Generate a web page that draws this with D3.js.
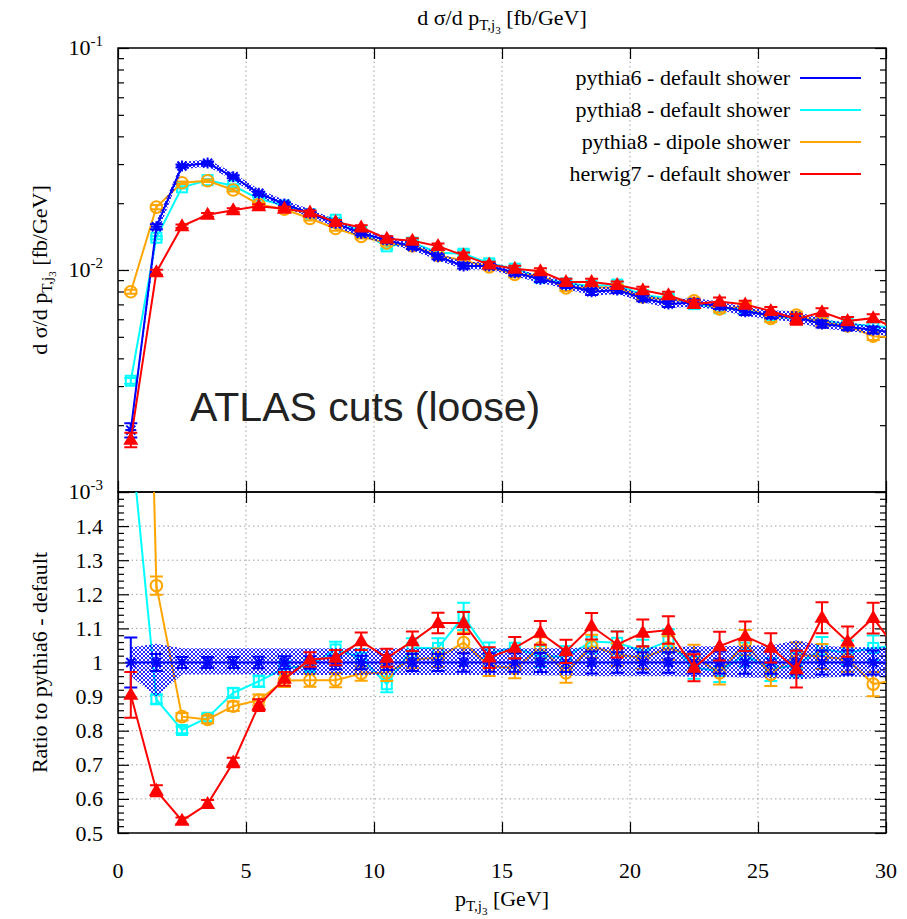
<!DOCTYPE html>
<html><head><meta charset="utf-8">
<script src="https://cdn.jsdelivr.net/npm/d3@7"></script>
<style>
body{margin:0;background:#fff}
text{font-family:"Liberation Serif","Times New Roman",serif;fill:#000}
</style>
</head><body><svg id="c" width="907" height="919"></svg>
<script>
// ---------------- data ----------------
const binCenters = [0.5,1.5,2.5,3.5,4.5,5.5,6.5,7.5,8.5,9.5,10.5,11.5,12.5,13.5,14.5,15.5,16.5,17.5,18.5,19.5,20.5,21.5,22.5,23.5,24.5,25.5,26.5,27.5,28.5,29.5,30.5];
const seriesNames = ["pythia6 - default shower","pythia8 - default shower","pythia8 - dipole shower","herwig7 - default shower"];
const seriesColors = ["#0000ff","#00ffff","#ffa500","#ff0000"];
const xTicks = [0,5,10,15,20,25,30];
const topTickExp = ["-3","-2","-1"];
const ratioTickLabels = ["0.5","0.6","0.7","0.8","0.9","1","1.1","1.2","1.3","1.4"];

const pythia6 = [0.00190,0.01567,0.0294,0.0303,0.0263,0.02216,0.01983,0.0180,0.01622,0.01463,0.01365,0.01274,0.01148,0.01043,0.01043,0.00972,0.00908,0.00856,0.00798,0.00813,0.00746,0.00703,0.00713,0.00689,0.00649,0.00627,0.00612,0.00571,0.00555,0.00537,0.00520];
const pythia8 = [0.00317,0.01398,0.02358,0.02539,0.02396,0.02094,0.01951,0.01782,0.01684,0.01483,0.01278,0.01329,0.01197,0.01184,0.01072,0.01014,0.00924,0.00871,0.00847,0.00860,0.00771,0.00747,0.00702,0.00672,0.00664,0.00614,0.00608,0.00593,0.00571,0.00560,0.00546];
const pythia8dip = [0.00798,0.0192,0.02473,0.02524,0.02293,0.01972,0.01878,0.01706,0.01538,0.01416,0.01324,0.01285,0.01164,0.01104,0.01033,0.00956,0.00947,0.00830,0.00836,0.00832,0.00756,0.00733,0.00726,0.00668,0.00687,0.00605,0.00626,0.00581,0.00560,0.00503,0.00494];
const herwig7 = [0.00172,0.00978,0.01576,0.01773,0.01859,0.01939,0.01888,0.01816,0.01645,0.01554,0.01384,0.01353,0.01281,0.01164,0.01058,0.01014,0.00987,0.00884,0.00883,0.00856,0.00811,0.00770,0.00702,0.00722,0.00699,0.00654,0.00600,0.00646,0.00589,0.00607,0.00536];

// relative statistical errors
const pythia6Err = [0.073,0.025,0.016,0.016,0.016,0.017,0.018,0.018,0.02,0.02,0.022,0.025,0.025,0.027,0.027,0.027,0.028,0.028,0.032,0.03,0.03,0.03,0.032,0.032,0.033,0.033,0.035,0.035,0.035,0.035,0.035];
const pythia8Err = [0.03,0.015,0.012,0.012,0.015,0.018,0.02,0.02,0.022,0.025,0.025,0.027,0.027,0.035,0.03,0.03,0.03,0.03,0.032,0.032,0.032,0.033,0.033,0.033,0.034,0.034,0.035,0.035,0.035,0.035,0.035];
const pythia8dipErr = [0.02,0.022,0.013,0.013,0.016,0.018,0.02,0.02,0.022,0.022,0.025,0.025,0.027,0.028,0.03,0.03,0.03,0.03,0.032,0.032,0.032,0.033,0.033,0.035,0.035,0.035,0.035,0.036,0.036,0.038,0.038];
const herwig7Err = [0.074,0.026,0.018,0.02,0.02,0.02,0.021,0.021,0.022,0.024,0.026,0.027,0.027,0.029,0.03,0.03,0.032,0.033,0.035,0.036,0.036,0.037,0.04,0.04,0.04,0.041,0.055,0.04,0.042,0.04,0.04];

// pythia6 uncertainty band (relative, below / above)
const bandLo = [0.04,0.10,0.035,0.035,0.035,0.035,0.037,0.037,0.037,0.037,0.037,0.037,0.037,0.037,0.037,0.037,0.038,0.038,0.04,0.04,0.04,0.04,0.042,0.042,0.045,0.045,0.05,0.045,0.042,0.042,0.042];
const bandHi = [0.045,0.055,0.042,0.042,0.042,0.042,0.042,0.042,0.042,0.042,0.042,0.042,0.042,0.042,0.042,0.042,0.042,0.042,0.045,0.045,0.045,0.045,0.048,0.048,0.05,0.05,0.065,0.05,0.045,0.045,0.045];

// ---------------- layout ----------------
const L = 118, R = 886, T = 48, M = 492, B = 833;
const svg = d3.select("#c");
const x = d3.scaleLinear([0,30],[L,R]);
const yTop = d3.scaleLog([1e-3,1e-1],[M,T]);
const yRat = d3.scaleLinear([0.5,1.5],[B,M]);

const defs = svg.append("defs");
defs.append("clipPath").attr("id","clipTop").append("rect").attr("x",L).attr("y",T).attr("width",R-L).attr("height",M-T);
defs.append("clipPath").attr("id","clipRat").append("rect").attr("x",L).attr("y",M).attr("width",R-L).attr("height",B-M);
const pat = defs.append("pattern").attr("id","hatch").attr("patternUnits","userSpaceOnUse").attr("width",4).attr("height",4);
pat.append("path").attr("d","M0,0 L4,4 M4,0 L0,4 M-1,3 L1,5 M3,-1 L5,1 M-1,1 L1,-1 M3,5 L5,3").attr("stroke","#0000ff").attr("stroke-width",0.85);

// ---------------- grids ----------------
const gridStyle = s => s.attr("stroke","#a0a0a0").attr("stroke-width",1).attr("stroke-dasharray","1.5,3");
const grid = svg.append("g");
[5,10,15,20,25].forEach(v=>{
  grid.append("line").attr("x1",x(v)).attr("x2",x(v)).attr("y1",T).attr("y2",M).call(gridStyle);
  grid.append("line").attr("x1",x(v)).attr("x2",x(v)).attr("y1",M).attr("y2",B).call(gridStyle);
});
grid.append("line").attr("x1",L).attr("x2",R).attr("y1",yTop(1e-2)).attr("y2",yTop(1e-2)).call(gridStyle);
[0.6,0.7,0.8,0.9,1.0,1.1,1.2,1.3,1.4].forEach(v=>{
  grid.append("line").attr("x1",L).attr("x2",R).attr("y1",yRat(v)).attr("y2",yRat(v)).call(gridStyle);
});

// ---------------- axes ----------------
function axisStyle(g){ g.select(".domain").remove(); g.selectAll("line").attr("stroke","#000").attr("stroke-width",1.2); g.selectAll("text").remove(); }
const topMajor = [1e-3,1e-2,1e-1];
const topMinor = [];
[1e-3,1e-2].forEach(d=>{ for(let k=2;k<=9;k++) topMinor.push(d*k); });
svg.append("g").attr("transform",`translate(${L},0)`).call(d3.axisLeft(yTop).tickValues(topMajor).tickSize(-11)).call(axisStyle);
svg.append("g").attr("transform",`translate(${L},0)`).call(d3.axisLeft(yTop).tickValues(topMinor).tickSize(-6)).call(axisStyle);
svg.append("g").attr("transform",`translate(${R},0)`).call(d3.axisRight(yTop).tickValues(topMajor).tickSize(-11)).call(axisStyle);
svg.append("g").attr("transform",`translate(${R},0)`).call(d3.axisRight(yTop).tickValues(topMinor).tickSize(-6)).call(axisStyle);

const ratMajor = d3.range(0,11).map(i=>0.5+i*0.1);
const ratMinor = [];
for(let i=0;i<50;i++){ if(i%5!==0) ratMinor.push(0.5+i*0.02); }
svg.append("g").attr("transform",`translate(${L},0)`).call(d3.axisLeft(yRat).tickValues(ratMajor).tickSize(-11)).call(axisStyle);
svg.append("g").attr("transform",`translate(${L},0)`).call(d3.axisLeft(yRat).tickValues(ratMinor).tickSize(-6)).call(axisStyle);
svg.append("g").attr("transform",`translate(${R},0)`).call(d3.axisRight(yRat).tickValues(ratMajor).tickSize(-11)).call(axisStyle);
svg.append("g").attr("transform",`translate(${R},0)`).call(d3.axisRight(yRat).tickValues(ratMinor).tickSize(-6)).call(axisStyle);

svg.append("g").attr("transform",`translate(0,${M})`).call(d3.axisTop(x).tickValues(xTicks).tickSize(11)).call(axisStyle);
svg.append("g").attr("transform",`translate(0,${M})`).call(d3.axisBottom(x).tickValues(xTicks).tickSize(11)).call(axisStyle);
svg.append("g").attr("transform",`translate(0,${B})`).call(d3.axisTop(x).tickValues(xTicks).tickSize(11)).call(axisStyle);
svg.append("g").attr("transform",`translate(0,${T})`).call(d3.axisBottom(x).tickValues(xTicks).tickSize(11)).call(axisStyle);

// tick labels
const FS = 22;
topMajor.forEach((v,i)=>{
  const t = svg.append("text").attr("x",103).attr("y",yTop(v)+7).attr("text-anchor","end").attr("font-size",FS);
  t.append("tspan").text("10");
  t.append("tspan").attr("dy",-9).attr("font-size",15).text(topTickExp[i]);
});
ratioTickLabels.forEach((s,i)=>{
  svg.append("text").attr("x",103).attr("y",yRat(0.5+i*0.1)+7.5).attr("text-anchor","end").attr("font-size",FS).text(s);
});
xTicks.forEach(v=>{
  svg.append("text").attr("x",x(v)).attr("y",878).attr("text-anchor","middle").attr("font-size",FS).text(v);
});

// frames
svg.append("rect").attr("x",L).attr("y",T).attr("width",R-L).attr("height",M-T).attr("fill","none").attr("stroke","#000").attr("stroke-width",1.5);
svg.append("rect").attr("x",L).attr("y",M).attr("width",R-L).attr("height",B-M).attr("fill","none").attr("stroke","#000").attr("stroke-width",1.5);

// ---------------- titles ----------------
function pTj3(t){
  t.append("tspan").text("p");
  t.append("tspan").attr("dy",5).attr("font-size",15).text("T,j");
  t.append("tspan").attr("dy",4).attr("font-size",11).text("3");
  t.append("tspan").attr("dy",-9).text(" ");
}
{
  const t = svg.append("text").attr("x",(L+R)/2).attr("y",25).attr("text-anchor","middle").attr("font-size",FS);
  t.append("tspan").text("d σ/d ");
  pTj3(t);
  t.append("tspan").text("[fb/GeV]");
}
{
  const t = svg.append("text").attr("x",(L+R)/2).attr("y",906).attr("text-anchor","middle").attr("font-size",FS);
  pTj3(t);
  t.append("tspan").text("[GeV]");
}
{
  const t = svg.append("text").attr("transform",`translate(47,${(T+M)/2}) rotate(-90)`).attr("text-anchor","middle").attr("font-size",FS);
  t.append("tspan").text("d σ/d ");
  pTj3(t);
  t.append("tspan").text("[fb/GeV]");
}
svg.append("text").attr("transform",`translate(47,${(M+B)/2}) rotate(-90)`).attr("text-anchor","middle").attr("font-size",FS).text("Ratio to pythia6 - default");

svg.append("text").attr("x",190).attr("y",421).attr("font-size",41).style("font-family","'Liberation Sans',Arial,sans-serif").style("fill","#222").text("ATLAS cuts (loose)");

// ---------------- markers ----------------
function drawMarker(g, type, cx, cy, color){
  if(type==="star"){
    g.append("path").attr("d",`M${cx-5.5},${cy}L${cx+5.5},${cy}M${cx},${cy-5.5}L${cx},${cy+5.5}M${cx-4.5},${cy-4.5}L${cx+4.5},${cy+4.5}M${cx-4.5},${cy+4.5}L${cx+4.5},${cy-4.5}`).attr("stroke",color).attr("stroke-width",2).attr("fill","none");
  } else if(type==="square"){
    g.append("rect").attr("x",cx-5).attr("y",cy-5).attr("width",10).attr("height",10).attr("stroke",color).attr("stroke-width",2).attr("fill","none");
  } else if(type==="circle"){
    g.append("circle").attr("cx",cx).attr("cy",cy).attr("r",5.8).attr("stroke",color).attr("stroke-width",2).attr("fill","none");
  } else {
    g.append("path").attr("d",`M${cx},${cy-8}L${cx+7.5},${cy+5}L${cx-7.5},${cy+5}Z`).attr("fill",color);
  }
}
const markerTypes = ["star","square","circle","triangle"];
const allSeries = [pythia6, pythia8, pythia8dip, herwig7];
const allErr = [pythia6Err, pythia8Err, pythia8dipErr, herwig7Err];

function drawSeries(g, xs, ys, lo, hi, color, type){
  const pts = xs.map((xv,i)=>[x(xv), ys[i]]);
  g.append("path").attr("d",d3.line()(pts)).attr("fill","none").attr("stroke",color).attr("stroke-width",2);
  xs.forEach((xv,i)=>{
    if(xv>30) return;
    const cx = x(xv);
    g.append("path").attr("d",`M${cx},${lo[i]}L${cx},${hi[i]}M${cx-6.5},${lo[i]}L${cx+6.5},${lo[i]}M${cx-6.5},${hi[i]}L${cx+6.5},${hi[i]}`).attr("stroke",color).attr("stroke-width",2).attr("fill","none");
    drawMarker(g, type, cx, ys[i], color);
  });
}

// ---------------- panels ----------------
const gTop = svg.append("g").attr("clip-path","url(#clipTop)");
const gRat = svg.append("g").attr("clip-path","url(#clipRat)");

const topBand = d3.area().x((d,i)=>x(binCenters[i])).y0((d,i)=>yTop(d*(1-bandLo[i]))).y1((d,i)=>yTop(d*(1+bandHi[i])));
const ratBand = d3.area().x((d,i)=>x(binCenters[i])).y0((d,i)=>yRat(1-bandLo[i])).y1((d,i)=>yRat(1+bandHi[i]));

const order = [1,2,0,3];
order.forEach(s=>{
  if(s===0){
    gTop.append("path").attr("d",topBand(pythia6)).attr("fill","url(#hatch)");
    gRat.append("path").attr("d",ratBand(pythia6)).attr("fill","url(#hatch)");
  }
  const vals = allSeries[s], err = allErr[s];
  drawSeries(gTop, binCenters, vals.map(v=>yTop(v)), vals.map((v,i)=>yTop(v*(1-err[i]))), vals.map((v,i)=>yTop(v*(1+err[i]))), seriesColors[s], markerTypes[s]);
  const ratio = vals.map((v,i)=>v/pythia6[i]);
  drawSeries(gRat, binCenters, ratio.map(r=>yRat(r)), ratio.map((r,i)=>yRat(r*(1-err[i]))), ratio.map((r,i)=>yRat(r*(1+err[i]))), seriesColors[s], markerTypes[s]);
});

// ---------------- legend ----------------
seriesNames.forEach((n,i)=>{
  const yy = 78 + i*32;
  svg.append("text").attr("x",790).attr("y",yy+7).attr("text-anchor","end").attr("font-size",FS).text(n);
  svg.append("line").attr("x1",800).attr("x2",861).attr("y1",yy).attr("y2",yy).attr("stroke",seriesColors[i]).attr("stroke-width",2);
});
</script>
</body></html>
